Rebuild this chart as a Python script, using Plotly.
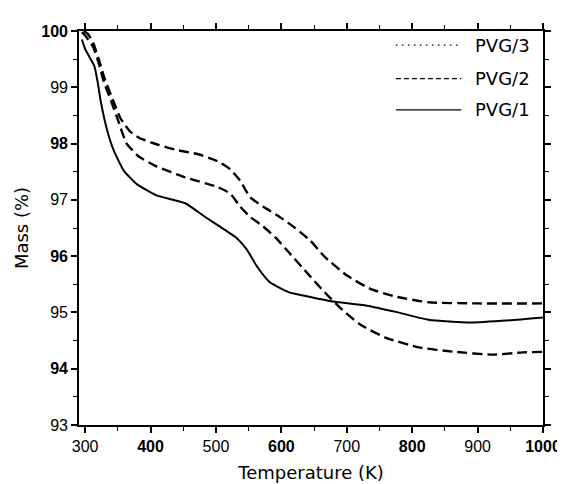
import plotly.graph_objects as go

# PVG/1 (solid)
T1 = [295, 300, 306, 314, 319, 324, 334, 344, 359, 379, 409, 453, 483, 513, 532, 547, 562, 582, 611, 646, 676, 731, 775, 825, 889, 949, 1000]
M1 = [99.85, 99.68, 99.55, 99.38, 99.10, 98.74, 98.22, 97.87, 97.52, 97.28, 97.08, 96.94, 96.70, 96.47, 96.32, 96.12, 95.83, 95.54, 95.36, 95.27, 95.20, 95.12, 95.01, 94.87, 94.82, 94.86, 94.91]

# PVG/2 (lower dashed)
T2 = [295, 300, 312, 321, 329, 339, 351, 363, 381, 408, 453, 502, 522, 537, 552, 572, 592, 612, 641, 666, 691, 721, 760, 810, 865, 924, 969, 1000]
M2 = [99.98, 99.92, 99.72, 99.42, 99.08, 98.78, 98.39, 98.01, 97.78, 97.60, 97.40, 97.23, 97.11, 96.88, 96.70, 96.53, 96.32, 96.06, 95.68, 95.36, 95.07, 94.78, 94.55, 94.38, 94.30, 94.25, 94.29, 94.30]

# PVG/3 (upper curve)
T3 = [298, 304, 312, 321, 329, 341, 354, 369, 383, 403, 438, 473, 502, 522, 537, 552, 572, 597, 621, 644, 666, 701, 736, 775, 825, 899, 1000]
M3 = [100.0, 99.95, 99.80, 99.49, 99.18, 98.82, 98.45, 98.21, 98.10, 98.01, 97.89, 97.81, 97.69, 97.54, 97.34, 97.05, 96.88, 96.70, 96.50, 96.28, 95.99, 95.65, 95.42, 95.28, 95.18, 95.16, 95.16]

X_TICKS = [300, 400, 500, 600, 700, 800, 900, 1000]
Y_TICKS = [93, 94, 95, 96, 97, 98, 99, 100]
LEGEND_NAMES = ["PVG/3", "PVG/2", "PVG/1"]

def tick_text(vals, bold_set):
    return [f"<b>{v}</b>" if v in bold_set else str(v) for v in vals]

fig = go.Figure()
DASH = "10px,5px"
fig.add_trace(go.Scatter(x=T3, y=M3, mode="lines", name="PVG/3",
                         line=dict(color="black", width=2.4, dash=DASH, shape="spline", smoothing=0.5),
                         showlegend=False))
fig.add_trace(go.Scatter(x=T2, y=M2, mode="lines", name="PVG/2",
                         line=dict(color="black", width=2.4, dash=DASH, shape="spline", smoothing=0.5),
                         showlegend=False))
fig.add_trace(go.Scatter(x=T1, y=M1, mode="lines", name="PVG/1",
                         line=dict(color="black", width=2, shape="spline", smoothing=0.5),
                         showlegend=False))

# Manual legend (lines + labels)
leg_y = [0.964, 0.879, 0.800]
leg_dash = ["1.5px,4.5px", "5px,3px", "solid"]
leg_w = [1.2, 1.2, 1.3]
for yy, nm, ds, w in zip(leg_y, LEGEND_NAMES, leg_dash, leg_w):
    fig.add_shape(type="line", xref="paper", yref="paper", x0=0.683, x1=0.824, y0=yy, y1=yy,
                  line=dict(color="black", width=w, dash=ds))
    fig.add_annotation(xref="paper", yref="paper", x=0.849, y=yy, text=nm, showarrow=False,
                       xanchor="left", yanchor="middle",
                       font=dict(family="DejaVu Sans", size=18, color="black"))

axis_common = dict(showline=True, linecolor="black", linewidth=1.6, mirror="allticks",
                   ticks="outside", ticklen=6, tickwidth=1.5, tickcolor="black",
                   showgrid=False, zeroline=False,
                   tickfont=dict(family="Liberation Sans, Arial", size=16, color="black"),
                   title_font=dict(family="DejaVu Sans", size=18, color="black"))

fig.update_xaxes(range=[290.6, 1000], tickvals=X_TICKS,
                 ticktext=tick_text(X_TICKS, {400, 600, 800, 1000}),
                 title_text="Temperature (K)", title_standoff=12,
                 minor=dict(dtick=50, ticks="outside", ticklen=4, tickcolor="black", tickwidth=1.2),
                 **axis_common)
fig.update_yaxes(range=[93, 100], tickvals=Y_TICKS,
                 ticktext=tick_text(Y_TICKS, {94, 96, 98, 100}),
                 title_text="Mass (%)", title_standoff=8,
                 minor=dict(dtick=0.5, ticks="outside", ticklen=4, tickcolor="black", tickwidth=1.2),
                 **axis_common)

fig.update_layout(width=565, height=484, margin=dict(l=71, r=17, t=23, b=62),
                  plot_bgcolor="white", paper_bgcolor="white", showlegend=False)

fig.write_html("out.html")
